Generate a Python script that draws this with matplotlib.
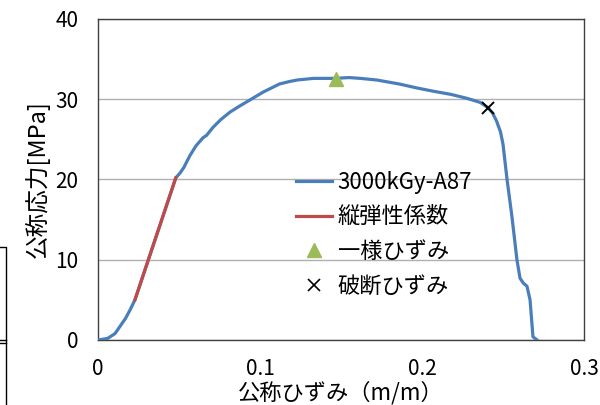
import matplotlib
matplotlib.use('Agg')
from matplotlib import pyplot as plt
from matplotlib.lines import Line2D

plt.rcParams['font.family'] = ['Noto Sans CJK JP', 'DejaVu Sans']

# stress-strain curve
strain = [0.0, 0.006, 0.0105, 0.0136, 0.017, 0.0198, 0.0228, 0.048, 0.0506, 0.053,
          0.055, 0.0568, 0.0605, 0.0648, 0.067, 0.071, 0.076, 0.0815, 0.087, 0.092,
          0.097, 0.102, 0.107, 0.112, 0.118, 0.123, 0.133, 0.141, 0.146, 0.155,
          0.162, 0.172, 0.186, 0.197, 0.207, 0.218, 0.228, 0.236, 0.2407, 0.2435,
          0.246, 0.2485, 0.25, 0.2525, 0.2555, 0.2586, 0.2605, 0.2625, 0.2648, 0.2667,
          0.2685, 0.271]
stress = [0.0, 0.2, 0.8, 1.7, 2.7, 3.75, 5.0, 20.2, 20.8, 21.5,
          22.3, 23.0, 24.2, 25.2, 25.5, 26.5, 27.5, 28.4, 29.1, 29.7,
          30.3, 30.9, 31.4, 31.9, 32.2, 32.4, 32.6, 32.6, 32.6, 32.7,
          32.6, 32.4, 31.9, 31.4, 31.0, 30.6, 30.1, 29.6, 28.96, 28.3,
          27.3, 25.9, 24.4, 20.0, 15.4, 10.0, 7.7, 7.1, 6.7, 5.0,
          0.4, 0.0]

# modulus segment
mod_strain = [0.0228, 0.048]
mod_stress = [5.0, 20.2]

uniform_pt = (0.147, 32.5)
break_pt = (0.2407, 28.96)

labels = ['3000kGy-A87', '縦弾性係数', '一様ひずみ', '破断ひずみ']

fig = plt.figure(figsize=(6, 4.05), dpi=100)
ax = fig.add_axes([98 / 600, 1 - 340 / 405, 486 / 600, 321 / 405])

ax.plot(strain, stress, color='#4a7ebb', lw=2.3, zorder=3)
ax.plot(mod_strain, mod_stress, color='#be4b48', lw=2.3, zorder=4)
ax.plot(*uniform_pt, marker='^', color='#9bbb59', ms=10, ls='none', zorder=5)
ax.plot(*break_pt, marker='x', color='black', ms=9, mew=1.4, ls='none', zorder=5)

ax.set_xlim(0, 0.3)
ax.set_ylim(0, 40)
ax.set_xticks([0, 0.1, 0.2, 0.3])
ax.set_xticklabels(['0', '0.1', '0.2', '0.3'])
ax.set_yticks([0, 10, 20, 30, 40])
ax.tick_params(length=0, labelsize=15)
ax.tick_params(axis='y', pad=14)
ax.tick_params(axis='x', pad=13)
ax.yaxis.grid(True, color='#b0b0b0', lw=1)
for s in ax.spines.values():
    s.set_color('#404040')
    s.set_linewidth(1)

ax.set_ylabel('公称応力[MPa]', fontsize=17, labelpad=4)
ax.set_xlabel('公称ひずみ（m/m）', fontsize=16, labelpad=1)

handles = [Line2D([], [], color='#4a7ebb', lw=2.3),
           Line2D([], [], color='#be4b48', lw=2.3),
           Line2D([], [], marker='^', color='#9bbb59', ms=10, ls='none'),
           Line2D([], [], marker='x', color='black', ms=8, mew=1.2, ls='none')]
ax.legend(handles, labels, loc='upper left', bbox_to_anchor=(0.39, 0.555),
          frameon=False, fontsize=16, handlelength=1.6, handletextpad=0.25,
          labelspacing=0.52, borderaxespad=0)

# leftover edge of a neighbouring chart
fig.add_artist(Line2D([0, 6 / 600, 6 / 600], [1 - 247 / 405, 1 - 247 / 405, 0],
                      color='black', lw=1))
fig.add_artist(Line2D([0, 6 / 600], [1 - 340 / 405] * 2, color='black', lw=1))
fig.add_artist(Line2D([0, 6 / 600], [1 - 343 / 405] * 2, color='black', lw=1))

fig.savefig('out.png', dpi=100)
